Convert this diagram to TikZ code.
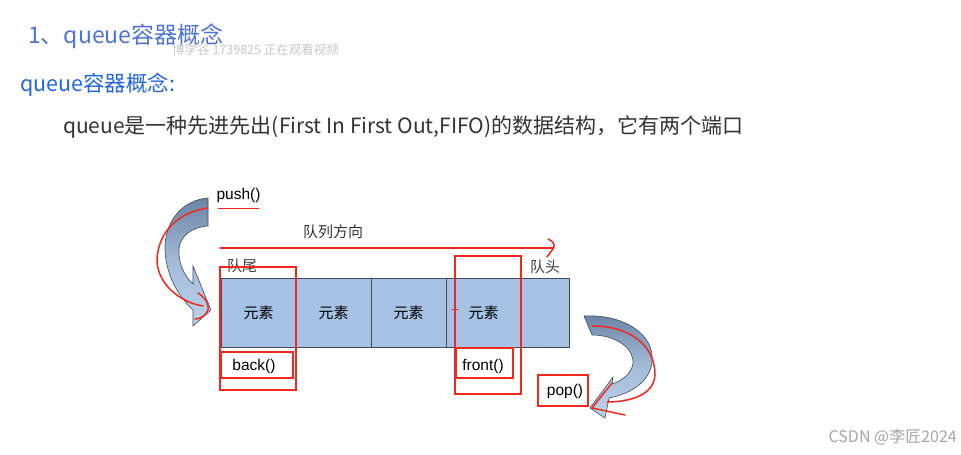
\documentclass[tikz,border=0pt]{standalone}
\usepackage{fontspec}
\setmainfont{Liberation Sans}
\newfontfamily\cjk{Noto Sans CJK SC}
\usetikzlibrary{positioning}
\definecolor{titleblue}{HTML}{4E73D6}
\definecolor{subblue}{HTML}{2266E6}
\definecolor{bodygray}{HTML}{333333}
\definecolor{cellblue}{HTML}{A6C3E6}
\definecolor{cellline}{HTML}{3E4C5C}
\definecolor{markred}{HTML}{F0281E}
\definecolor{arrowdark}{HTML}{6C84A4}
\definecolor{arrowlight}{HTML}{BCD3EE}

\begin{document}
\begin{tikzpicture}[
  x=1pt, y=-1pt,
  cell/.style={
    draw=cellline, fill=cellblue, line width=0.8pt,
    minimum height=69pt,
    inner sep=0pt, outer sep=0pt,
    font=\cjk\fontsize{15}{18}\selectfont
  },
  lbl/.style={inner sep=0pt, font=\cjk\fontsize{15}{18}\selectfont, text=black!75},
  func/.style={inner sep=0pt, font=\fontsize{15.5}{18}\selectfont, text=black},
  thinmark/.style={draw=markred, line width=1.3pt},
  thickmark/.style={draw=markred, line width=2.4pt},
  scribble/.style={markred, line width=1.5pt, line cap=round, line join=round},
  bigarrow/.style={top color=arrowdark, bottom color=arrowlight, middle color=arrowlight!70!arrowdark,
    draw=cellline, line width=0.6pt}
]
\fill[white] (0,0) rectangle (961,455);
\useasboundingbox (0,0) rectangle (961,455);

% --- Header text ---
\node[anchor=west, inner sep=0pt, text=titleblue, font=\cjk\fontsize{23}{27}\selectfont]
  (title) at (28,36) {1、queue容器概念};
\node[anchor=west, inner sep=0pt, text=black!22, font=\cjk\fontsize{12.5}{15}\selectfont]
  (viewer) at (172,50) {博学谷 1739825 正在观看视频};
\node[anchor=west, inner sep=0pt, text=subblue, font=\cjk\fontsize{21.5}{25}\selectfont]
  (sub) at (20,85) {queue容器概念:};
\node[anchor=west, inner sep=0pt, text=bodygray, font=\cjk\fontsize{21}{25}\selectfont]
  (desc) at (63,127) {queue是一种先进先出(First In First Out,FIFO)的数据结构，它有两个端口};

% --- Queue cells ---
\foreach \t [count=\i] in {元素,元素,元素,元素,{}} {
  \ifnum\i=5 \def\cw{48pt}\else \def\cw{75pt}\fi
  \ifnum\i=1
    \node[cell, minimum width=\cw, anchor=north west] (c\i) at (221,278) {\raisebox{-3pt}{\t}};
  \else
    \node[cell, minimum width=\cw, right=0pt of c\the\numexpr\i-1\relax] (c\i) {\raisebox{-3pt}{\t}};
  \fi
}

% --- Labels ---
\node[lbl, text=black!80] (dir) at (333,232) {队列方向};
\node[lbl, anchor=west] (tail) at (227,266) {队尾};
\node[lbl, anchor=west] (head) at (530,267) {队头};
\node[func] (push) at (238.5,195) {push()};
\node[func] (back) at (254,366) {back()};
\node[func] (front) at (483,366) {front()};
\node[func] (pop) at (565,391) {pop()};

% --- Curved arrows ---
\shade[bigarrow] (208,198) .. controls (182,200) and (164,222) .. (165,250)
  .. controls (166,275) and (178,296) .. (193,310) -- (193,326) -- (211,310) -- (193,266)
  -- (193,284) .. controls (184,276) and (178,262) .. (179,249)
  .. controls (180,236) and (192,227) .. (208,226) -- cycle;
\shade[bigarrow] (584,316) .. controls (625,314) and (655,335) .. (652,362)
  .. controls (650,382) and (630,394) .. (609,398) -- (605,418) -- (590,408) -- (613,377)
  -- (612,384) .. controls (625,380) and (634,370) .. (633,360)
  .. controls (631,345) and (612,335) .. (592,335) -- cycle;

% --- Red marks ---
\draw[thinmark] (220,267) rectangle (296,390);
\draw[thinmark] (455,256) rectangle (521,394);
\draw[thickmark] (221,352) rectangle (293,378);
\draw[thinmark, line width=2pt] (456,348) rectangle (513,378);
\draw[thinmark, line width=2pt] (538,375) rectangle (588,406);
\draw[scribble, line width=1pt] (452,309) -- (458,309);

\coordinate (dirstart) at (220,248);
\coordinate (dirend) at (553,248);
\draw[scribble] (dirstart) -- (dirend);
\draw[scribble] (548,239) .. controls (553,241) and (556,245) .. (553,249) -- (547,257);
\draw[scribble] ([xshift=2pt, yshift=-6pt]push.south west) -- ([xshift=-2pt, yshift=-6pt]push.south east);

\draw[scribble] (208,208) .. controls (178,212) and (158,232) .. (157,260)
  .. controls (157,282) and (178,302) .. (203,306);
\draw[scribble] (198,293) .. controls (204,297) and (209,302) .. (208,310)
  .. controls (206,316) and (200,319) .. (195,319);
\draw[scribble] (592,326) .. controls (630,326) and (655,345) .. (655,375)
  .. controls (654,395) and (630,402) .. (607,402);
\draw[scribble] (612,383) -- (592,408) -- (625,415);

% --- Watermark ---
\node[anchor=east, inner sep=0pt, text=black!35, font=\cjk\fontsize{16}{19}\selectfont]
  (mark) at (957,437) {CSDN @李匠2024};
\end{tikzpicture}
\end{document}
